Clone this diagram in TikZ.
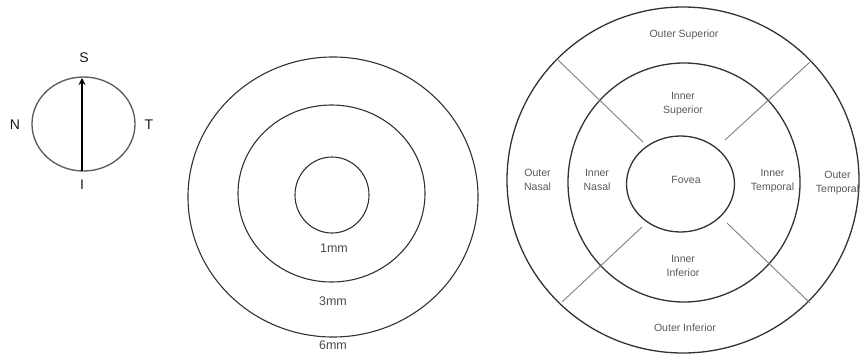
\documentclass[tikz,border=0pt]{standalone}
\usepackage{fontspec}
\setmainfont{Liberation Sans}
\usetikzlibrary{arrows.meta}
\begin{document}
\begin{tikzpicture}[x=1pt,y=-1pt,
  ring/.style={draw=black!80, line width=1.2pt},
  divider/.style={draw=black!50, line width=0.9pt},
  lbl/.style={text=black!65, font=\fontsize{10.5}{14}\selectfont, align=center, inner sep=0pt},
  mmlbl/.style={text=black!70, font=\fontsize{12.5}{14}\selectfont, inner sep=0pt},
  dirlbl/.style={text=black!90, font=\fontsize{14}{16}\selectfont, inner sep=0pt}]
\useasboundingbox (0,0) rectangle (862,356);
% ---- orientation circle ----
\coordinate (oc) at (83.5,124);
\draw[draw=black!65, line width=1.3pt] (oc) ellipse [x radius=51.5, y radius=47];
\coordinate (abot) at (82,171);
\coordinate (atop) at (82,78);
\draw[line width=1.8pt, -{Stealth[length=7pt,width=7pt]}] (abot) -- (atop);
\node[dirlbl] (S) at (84,58) {S};
\node[dirlbl] (N) at (15,125) {N};
\node[dirlbl] (T) at (149,125) {T};
\node[dirlbl] (I) at (82,185) {I};
% ---- concentric circles ----
\coordinate (mc) at (333,196);
\draw[ring, line width=1.1pt] (333,197) ellipse [x radius=145, y radius=140];
\draw[ring, line width=1.1pt] (331.5,193.5) ellipse [x radius=93.5, y radius=88.5];
\draw[ring, line width=1.1pt] (332,195) ellipse [x radius=37, y radius=38];
\node[mmlbl] (m1) at (334,248) {1mm};
\node[mmlbl] (m3) at (333,301) {3mm};
\node[mmlbl] (m6) at (333,345) {6mm};
% ---- ETDRS grid ----
\draw[ring, line width=1.3pt] (683,180) ellipse [x radius=176, y radius=173];
\draw[ring, line width=1.3pt] (684,182.5) ellipse [x radius=116, y radius=119.5];
\draw[ring, line width=1.3pt] (680.5,184) ellipse [x radius=54, y radius=48];
\coordinate (ulo) at (558,60);  \coordinate (uli) at (643,142);
\coordinate (uro) at (810,62);  \coordinate (uri) at (725,140);
\coordinate (llo) at (562,302); \coordinate (lli) at (642,227);
\coordinate (lro) at (810,303); \coordinate (lri) at (727,223);
\draw[divider] (ulo) -- (uli);
\draw[divider] (uro) -- (uri);
\draw[divider] (llo) -- (lli);
\draw[divider] (lro) -- (lri);
\node[lbl] (os) at (684,35) {Outer Superior};
\node[lbl] (is) at (683,103.5) {Inner\\Superior};
\node[lbl] (fov) at (686,180) {Fovea};
\node[lbl] (inn) at (597,180) {Inner\\Nasal};
\node[lbl] (it) at (772.5,180.5) {Inner\\Temporal};
\node[lbl] (on) at (537.5,180) {Outer\\Nasal};
\node[lbl] (ot) at (837.5,182.5) {Outer\\Temporal};
\node[lbl] (ii) at (683,265.5) {Inner\\Inferior};
\node[lbl] (oi) at (685,328) {Outer Inferior};
\end{tikzpicture}
\end{document}
